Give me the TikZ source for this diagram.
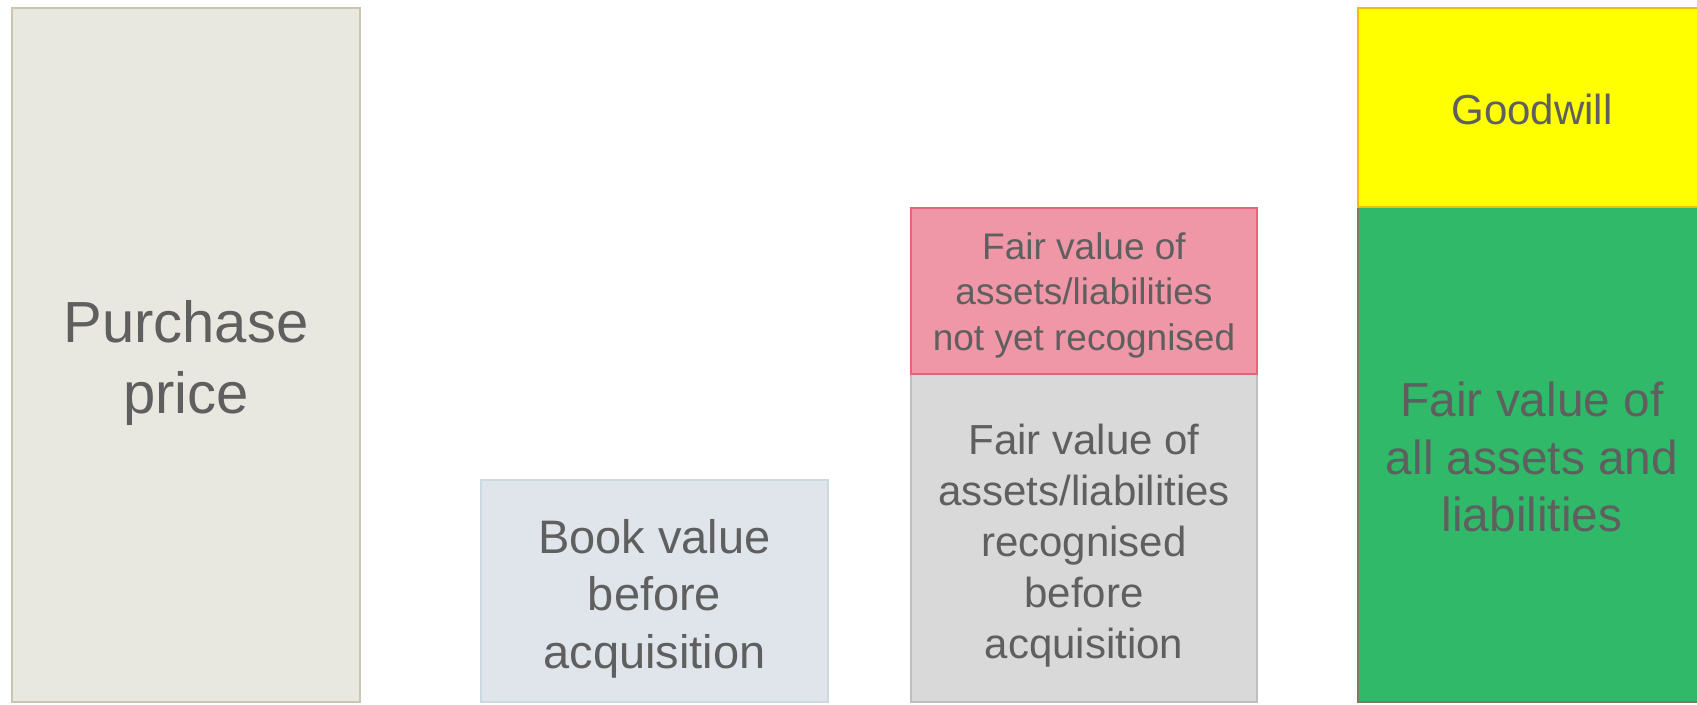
\documentclass[tikz,border=0pt]{standalone}
\usepackage{fontspec}
\setmainfont{Liberation Sans}
\definecolor{txt}{HTML}{5F5F5F}
\definecolor{priceFill}{HTML}{E9E8E0}
\definecolor{priceLine}{HTML}{C9C5B1}
\definecolor{bookFill}{HTML}{DFE5EB}
\definecolor{bookLine}{HTML}{CCD8E2}
\definecolor{newFill}{HTML}{EF96A7}
\definecolor{newLine}{HTML}{E9627C}
\definecolor{oldFill}{HTML}{D9D9D9}
\definecolor{oldLine}{HTML}{BFBFBF}
\definecolor{gwFill}{HTML}{FFFF00}
\definecolor{gwLine}{HTML}{F7B90B}
\definecolor{fvFill}{HTML}{30B968}
\definecolor{fvLine}{HTML}{7F7A5E}
\begin{document}
\begin{tikzpicture}[x=1pt,y=-1pt,
  bar/.style={rectangle, draw, line width=2pt, anchor=north west,
    inner sep=0pt, outer sep=0pt},
  barlabel/.style={inner sep=0pt, align=center, text=txt}]
\useasboundingbox (0,0) rectangle (1697,704);
\clip (0,0) rectangle (1697,704);

% purchase price column
\node[bar, fill=priceFill, draw=priceLine, minimum width=348pt, minimum height=694pt] (price) at (12,8) {};
\node[barlabel, font=\fontsize{58}{71}\selectfont] (priceText)
  at ([yshift=-7.5pt]price.center) {Purchase\\price};

% book value column
\node[bar, fill=bookFill, draw=bookLine, minimum width=347pt, minimum height=222pt] (book) at (481,480) {};
\node[barlabel, font=\fontsize{47}{57.4}\selectfont] (bookText)
  at ([yshift=-7.5pt]book.center) {Book value\\before\\acquisition};

% fair value split: recognised and not yet recognised
\node[bar, fill=oldFill, draw=oldLine, minimum width=346pt, minimum height=328pt] (old) at (911,374) {};
\node[barlabel, font=\fontsize{42}{51}\selectfont] (oldText)
  at ([yshift=-7.5pt]old.center)
  {Fair value of\\assets/liabilities\\recognised\\before\\acquisition};
\node[bar, fill=newFill, draw=newLine, minimum width=346pt, minimum height=166pt] (new) at (911,208) {};
\node[barlabel, font=\fontsize{37}{45.5}\selectfont] (newText)
  at ([yshift=-4.3pt]new.center)
  {Fair value of\\assets/liabilities\\not yet recognised};

% fair value of all items plus goodwill
\node[bar, fill=fvFill, draw=fvLine, minimum width=348pt, minimum height=495pt] (fv) at (1358,207) {};
\node[barlabel, font=\fontsize{47.8}{57.4}\selectfont] (fvText)
  at ([yshift=-2.5pt]fv.center) {Fair value of\\all assets and\\liabilities};
\node[bar, fill=gwFill, draw=gwLine, minimum width=348pt, minimum height=199pt] (gw) at (1358,8) {};
\node[barlabel, font=\fontsize{42}{50}\selectfont] (gwText)
  at ([yshift=-2pt]gw.center) {Goodwill};
\end{tikzpicture}
\end{document}
